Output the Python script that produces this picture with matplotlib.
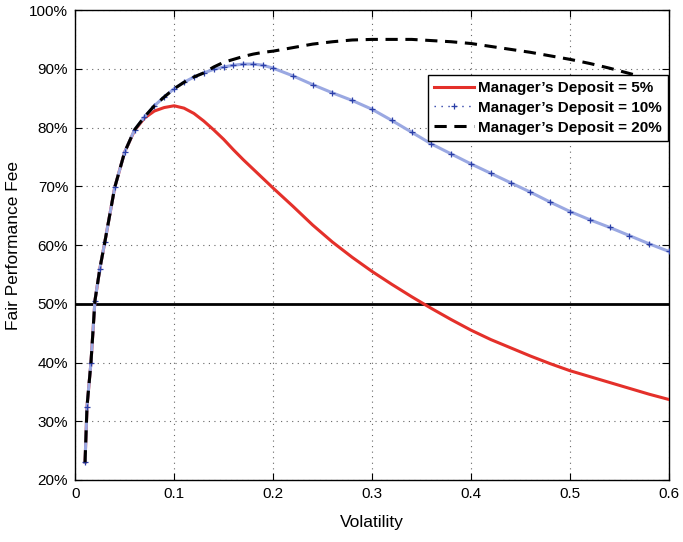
import matplotlib
matplotlib.use("Agg")
import matplotlib.pyplot as plt
from matplotlib.lines import Line2D
from matplotlib.ticker import FuncFormatter

plt.rcParams['font.family'] = ['Liberation Sans', 'DejaVu Sans']

# volatility grid
vol = [0.01, 0.012, 0.016, 0.02, 0.025, 0.03, 0.04, 0.05, 0.06, 0.07, 0.08, 0.09,
       0.10, 0.11, 0.12, 0.13, 0.14, 0.15, 0.16, 0.17, 0.18, 0.19, 0.20,
       0.22, 0.24, 0.26, 0.28, 0.30, 0.32, 0.34, 0.36, 0.38, 0.40,
       0.42, 0.44, 0.46, 0.48, 0.50, 0.52, 0.54, 0.56, 0.58, 0.60]

# fair performance fee in percent
fee_5 = [23.0, 32.5, 40.0, 50.5, 56.0, 60.5, 69.8, 75.8, 79.5, 81.6, 82.8, 83.4,
         83.7, 83.3, 82.4, 81.1, 79.6, 78.0, 76.2, 74.5, 72.9, 71.3, 69.7,
         66.6, 63.4, 60.5, 57.9, 55.5, 53.3, 51.2, 49.2, 47.3, 45.5,
         43.9, 42.5, 41.1, 39.8, 38.6, 37.6, 36.6, 35.6, 34.6, 33.7]
fee_10 = [23.0, 32.5, 40.0, 50.5, 56.0, 60.5, 69.8, 75.8, 79.6, 81.8, 83.7, 85.2,
          86.6, 87.7, 88.6, 89.3, 89.9, 90.3, 90.6, 90.8, 90.8, 90.6, 90.1,
          88.8, 87.3, 85.9, 84.6, 83.1, 81.2, 79.2, 77.2, 75.5, 73.8,
          72.2, 70.6, 69.0, 67.3, 65.7, 64.3, 63.0, 61.6, 60.2, 58.9]
fee_20 = [23.0, 32.5, 40.0, 50.5, 56.0, 60.5, 69.8, 75.8, 79.6, 81.8, 83.7, 85.2,
          86.6, 87.7, 88.6, 89.3, 90.3, 91.1, 91.6, 92.1, 92.5, 92.8, 93.0,
          93.6, 94.2, 94.6, 94.9, 95.0, 95.0, 95.0, 94.8, 94.6, 94.3,
          93.8, 93.3, 92.8, 92.2, 91.6, 90.9, 90.1, 89.2, 88.3, 87.4]

labels = ["Manager\u2019s Deposit = 5%", "Manager\u2019s Deposit = 10%",
          "Manager\u2019s Deposit = 20%"]

red = '#e4302a'
blue_line = '#9aa8e2'
blue_mark = '#2b3fa8'

fig = plt.figure(figsize=(6.83, 5.42), dpi=100)
ax = fig.add_axes([0.110, 0.1144, 0.8695, 0.8671])

ax.plot(vol, fee_5, color=red, lw=2.2, zorder=3)
ax.plot(vol, fee_10, color=blue_line, lw=2.2, marker='+', ms=4,
        mec=blue_mark, mew=0.9, zorder=4)
ax.plot(vol, fee_20, color='black', lw=2.2, ls=(0, (4, 2.5)), zorder=5)

# 50% reference line
ax.axhline(50, color='black', lw=2, zorder=2)

ax.set_xlim(0, 0.6)
ax.set_ylim(20, 100)
ax.set_xticks([0, 0.1, 0.2, 0.3, 0.4, 0.5, 0.6])
ax.set_xticklabels(['0', '0.1', '0.2', '0.3', '0.4', '0.5', '0.6'])
ax.set_yticks(range(20, 101, 10))
ax.yaxis.set_major_formatter(FuncFormatter(lambda v, p: '%d%%' % v))

ax.grid(True, color='#666666', ls=(0, (1, 4)), lw=0.8)
ax.tick_params(direction='in', top=True, right=True, length=5, labelsize=11, pad=5)
for s in ax.spines.values():
    s.set_linewidth(1.0)

ax.set_xlabel('Volatility', fontsize=12.5, labelpad=10)
ax.set_ylabel('Fair Performance Fee', fontsize=12.5, labelpad=6)

# legend handles drawn like the reference key
handles = [Line2D([], [], color=red, lw=2.2),
           Line2D([], [], color=blue_mark, lw=1.0, ls=(0, (1, 4)), marker='+',
                  ms=5, mew=0.9, markevery=[1]),
           Line2D([], [], color='black', lw=2.2, ls=(0, (4, 2.5)))]
leg = ax.legend(handles, labels, loc='upper right', bbox_to_anchor=(0.9985, 0.862),
                prop={'weight': 'bold', 'size': 11}, fancybox=False, framealpha=1,
                edgecolor='black', borderpad=0.4, labelspacing=0.38,
                handlelength=2.6, handletextpad=0.3, borderaxespad=0)
leg.get_frame().set_linewidth(1.0)

fig.savefig('out.png', dpi=100)
